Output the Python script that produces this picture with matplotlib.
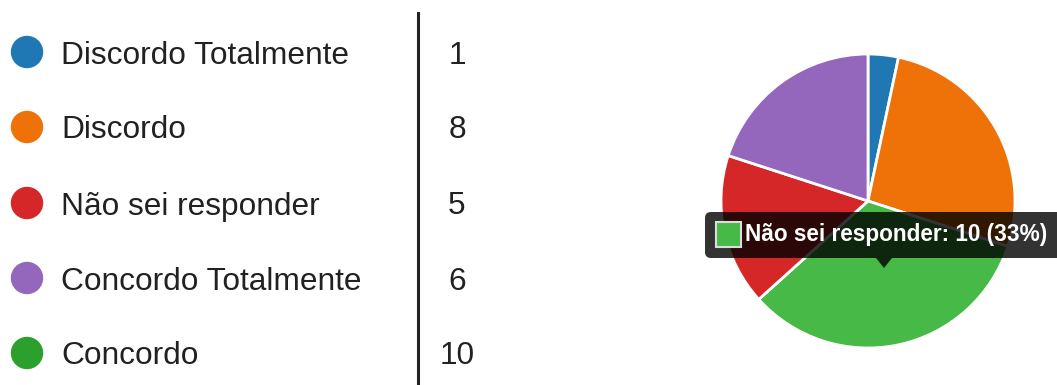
import matplotlib
matplotlib.use("Agg")
import matplotlib.pyplot as plt
from matplotlib.patches import Circle, FancyBboxPatch, Polygon, Rectangle

# Dados
labels = ["Discordo Totalmente", "Discordo", "Não sei responder",
          "Concordo Totalmente", "Concordo"]
counts = [1, 8, 5, 6, 10]
colors = ["#1f77b4", "#ef7208", "#d62728", "#9467bd", "#2ca02c"]

# ordem das fatias no gráfico de pizza (sentido horário a partir do topo)
pie_order = [0, 1, 4, 2, 3]
hover_index = 4
hover_color = "#46b946"
tooltip_text = "Não sei responder: 10 (33%)"

W, H = 1057, 385
fig = plt.figure(figsize=(W / 100, H / 100), dpi=100)

# Pizza
cx, cy, r = 868, 201, 147
ax_pie = fig.add_axes([(cx - r) / W, (H - cy - r) / H, 2 * r / W, 2 * r / H])
pie_vals = [counts[i] for i in pie_order]
pie_cols = [hover_color if i == hover_index else colors[i] for i in pie_order]
ax_pie.pie(pie_vals, colors=pie_cols, startangle=90, counterclock=False,
           wedgeprops=dict(edgecolor="white", linewidth=2))
ax_pie.set_xlim(-1, 1)
ax_pie.set_ylim(-1, 1)
ax_pie.set_aspect("equal")
ax_pie.axis("off")

# Camada em pixels para a legenda e o tooltip
ax = fig.add_axes([0, 0, 1, 1], zorder=5)
ax.set_xlim(0, W)
ax.set_ylim(H, 0)
ax.axis("off")
ax.patch.set_alpha(0)

font = "Liberation Sans"
row_y = [52, 127, 203, 278, 353]
for y, lab, n, c in zip(row_y, labels, counts, colors):
    ax.add_patch(Circle((27, y), 15.5, color=c))
    ax.text(61, y + 11.5, lab, fontsize=22.8, family=font, color="#212121",
            va="baseline", ha="left")
    ax.text(457, y + 11.5, str(n), fontsize=22.8, family=font, color="#212121",
            va="baseline", ha="center")

ax.plot([418, 418], [13, 385], color="#222222", lw=2.2)

# Tooltip
ax.add_patch(FancyBboxPatch((705, 212), 360, 46,
                            boxstyle="round,pad=0,rounding_size=6",
                            facecolor="black", edgecolor="none", alpha=0.8))
ax.add_patch(Polygon([(876, 258), (892, 258), (884, 268)], closed=True,
                     facecolor="black", edgecolor="none", alpha=0.8))
ax.add_patch(Rectangle((716, 222), 25, 25, facecolor=hover_color,
                       edgecolor="#dddddd", lw=1.5))
ax.text(745, 241, tooltip_text, fontsize=16.3, family=font, weight="bold",
        color="white", va="baseline", ha="left")

fig.savefig("out.png", dpi=100)
